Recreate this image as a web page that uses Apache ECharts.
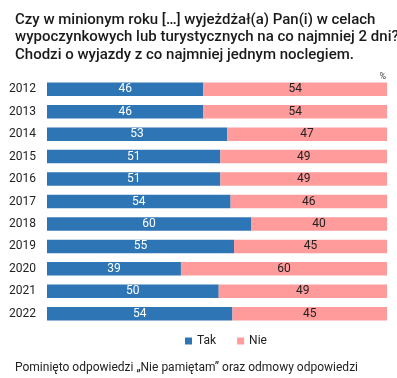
<!DOCTYPE html>
<html><head><meta charset="utf-8">
<script src="https://cdn.jsdelivr.net/npm/echarts@6/dist/echarts.min.js"></script>
<style>html,body{margin:0;padding:0;background:#fff}#c{width:397px;height:378px}</style>
</head><body><div id="c"></div>
<script>
const years = ['2012','2013','2014','2015','2016','2017','2018','2019','2020','2021','2022'];
const tak = [46,46,53,51,51,54,60,55,39,50,54];
const nie = [54,54,47,49,49,46,40,45,60,49,45];
const seriesNames = ['Tak','Nie'];

const share = (arr, i) => arr[i] / (tak[i] + nie[i]) * 100;
const takData = tak.map((v,i)=>({value: share(tak,i), raw: v}));
const nieData = nie.map((v,i)=>({value: share(nie,i), raw: v}));

const chart = echarts.init(document.getElementById('c'));
const font = 'Roboto';
chart.setOption({
  animation:false,
  textStyle:{fontFamily:font},
  title:[{
    text:'Czy w minionym roku […] wyjeżdżał(a) Pan(i) w celach\nwypoczynkowych lub turystycznych na co najmniej 2 dni?\nChodzi o wyjazdy z co najmniej jednym noclegiem.',
    left:10, top:6,
    textStyle:{fontFamily:font,fontSize:15,fontWeight:500,color:'#1a1a1a',lineHeight:17.5}
  },{
    text:'%', right:6, top:67,
    textStyle:{fontFamily:font,fontSize:9,fontWeight:'normal',color:'#444'}
  },{
    text:'Pominięto odpowiedzi „Nie pamiętam” oraz odmowy odpowiedzi',
    left:10, top:357,
    textStyle:{fontFamily:font,fontSize:12,fontWeight:'normal',color:'#222'}
  }],
  legend:{
    data:seriesNames, top:330, left:180,
    icon:'rect', itemWidth:7, itemHeight:7, itemGap:21,
    textStyle:{fontFamily:font,fontSize:12,color:'#222'}
  },
  grid:{left:47,right:10,top:78,bottom:53},
  xAxis:{type:'value',min:0,max:100,show:false},
  yAxis:{type:'category',data:years,inverse:true,
    axisLine:{show:false},axisTick:{show:false},
    axisLabel:{fontFamily:font,fontSize:12,color:'#222',margin:11}},
  series:[
    {name:seriesNames[0],type:'bar',stack:'a',data:takData,barWidth:13.5,
     itemStyle:{color:'#2E75B6'},
     label:{show:true,position:'inside',color:'#fff',fontSize:12,fontFamily:font,formatter:p=>p.data.raw}},
    {name:seriesNames[1],type:'bar',stack:'a',data:nieData,barWidth:13.5,
     itemStyle:{color:'#FF9B9B'},
     label:{show:true,position:'inside',color:'#222',fontSize:12,fontFamily:font,formatter:p=>p.data.raw}}
  ]
});
</script></body></html>
